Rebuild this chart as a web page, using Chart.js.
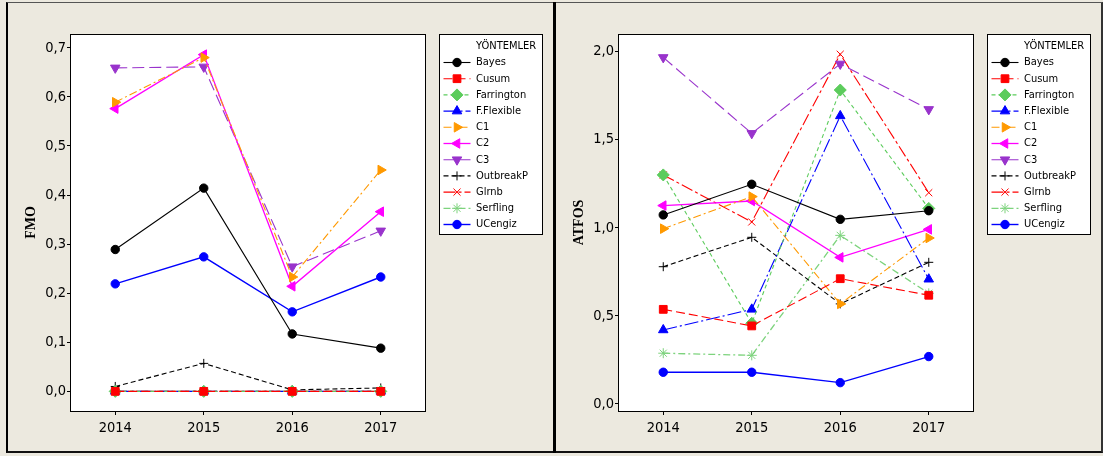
<!DOCTYPE html>
<html>
<head>
<meta charset="utf-8">
<script src="https://cdn.jsdelivr.net/npm/chart.js@4.4.1/dist/chart.umd.min.js"></script>
<style>
  html, body { margin: 0; padding: 0; background: #ece9df; }
  #stage { position: relative; width: 1103px; height: 456px; overflow: hidden; }
  canvas { position: absolute; top: 0; }
  #cvFmo { left: 0; }
  #cvAtfos { left: 553px; }
  .frame { position: absolute; left: 6px; top: 2px; width: 1093px; height: 448px;
           border-top: 1px solid #555; border-left: 2px solid #000;
           border-bottom: 2px solid #111; border-right: 2px solid #333; }
  .split { position: absolute; left: 553px; top: 2px; width: 3px; height: 451px; background: #000; }
</style>
</head>
<body>
<div id="stage">
  <canvas id="cvFmo" width="553" height="456"></canvas>
  <canvas id="cvAtfos" width="550" height="456"></canvas>
  <div class="frame"></div>
  <div class="split"></div>
</div>
<script>
// years on the x axis
const years = [2014, 2015, 2016, 2017];
const methods = ["Bayes", "Cusum", "Farrington", "F.Flexible", "C1", "C2", "C3", "OutbreakP", "Glrnb", "Serfling", "UCengiz"];

// FMO per method
const fmoBayes      = [0.289, 0.414, 0.117, 0.088];
const fmoCusum      = [0, 0, 0, 0];
const fmoFarrington = [0, 0, 0, 0];
const fmoFlexible   = [0, 0, 0, 0];
const fmoC1         = [0.589, 0.680, 0.233, 0.451];
const fmoC2         = [0.576, 0.686, 0.214, 0.366];
const fmoC3         = [0.659, 0.661, 0.254, 0.327];
const fmoOutbreakP  = [0.010, 0.057, 0.003, 0.007];
const fmoGlrnb      = [0, 0, 0, 0];
const fmoSerfling   = [0, 0, 0, 0];
const fmoUCengiz    = [0.219, 0.274, 0.162, 0.233];

// ATFOS per method
const atfosBayes      = [1.073, 1.247, 1.048, 1.097];
const atfosCusum      = [0.537, 0.443, 0.711, 0.617];
const atfosFarrington = [1.300, 0.458, 1.782, 1.110];
const atfosFlexible   = [0.420, 0.537, 1.635, 0.708];
const atfosC1         = [0.995, 1.177, 0.568, 0.942];
const atfosC2         = [1.126, 1.152, 0.832, 0.991];
const atfosC3         = [1.967, 1.536, 1.930, 1.672];
const atfosOutbreakP  = [0.779, 0.946, 0.568, 0.804];
const atfosGlrnb      = [1.300, 1.033, 1.985, 1.199];
const atfosSerfling   = [0.288, 0.276, 0.957, 0.628];
const atfosUCengiz    = [0.180, 0.180, 0.121, 0.269];

const fmoTicks = [0, 0.1, 0.2, 0.3, 0.4, 0.5, 0.6, 0.7];
const atfosTicks = [0, 0.5, 1.0, 1.5, 2.0];

const NARROW = "'Liberation Sans Narrow', 'DejaVu Sans Condensed', 'Liberation Sans', sans-serif";

// line / marker look for each method, same order as `methods`
const styles = [
  { color: "#000000", dash: [],            point: "circle",   radius: 4.2, rot: 0,   width: 1.1 },
  { color: "#ff0000", dash: [9, 4],        point: "rect",     radius: 5.5, rot: 0,   width: 1.1 },
  { color: "#5ccc5c", dash: [4, 3],        point: "rectRot",  radius: 6,   rot: 0,   width: 1.1 },
  { color: "#0000ff", dash: [14, 3, 2, 3], point: "triangle", radius: 5.5, rot: 0,   width: 1.1 },
  { color: "#ff9900", dash: [8, 3, 2, 3],  point: "triangle", radius: 5.5, rot: 90,  width: 1.1 },
  { color: "#ff00ff", dash: [],            point: "triangle", radius: 5.5, rot: 270, width: 1.3 },
  { color: "#9933cc", dash: [12, 5],       point: "triangle", radius: 5.5, rot: 180, width: 1.1 },
  { color: "#000000", dash: [5, 3],        point: "cross",    radius: 4.5, rot: 0,   width: 1.1 },
  { color: "#ff0000", dash: [12, 3, 3, 3], point: "crossRot", radius: 5,   rot: 0,   width: 1.1 },
  { color: "#7dd37d", dash: [7, 3, 2, 3],  point: "star",     radius: 5,   rot: 0,   width: 1.3 },
  { color: "#0000ff", dash: [],            point: "circle",   radius: 4.2, rot: 0,   width: 1.4 }
];

function buildDatasets(seriesList) {
  return seriesList.map((vals, i) => {
    const s = styles[i];
    return {
      label: methods[i],
      data: years.map((y, k) => ({ x: y, y: vals[k] })),
      borderColor: s.color,
      backgroundColor: s.color,
      borderWidth: s.width,
      borderDash: s.dash,
      pointStyle: s.point,
      pointRadius: s.radius,
      pointRotation: s.rot,
      pointBorderWidth: 1,
      pointBackgroundColor: s.color,
      pointBorderColor: s.color,
      tension: 0
    };
  });
}

// white plot box with black frame
const plotFrame = {
  id: "plotFrame",
  beforeDraw(chart) {
    const a = chart.chartArea, ctx = chart.ctx;
    ctx.save();
    ctx.fillStyle = "#ffffff";
    ctx.fillRect(a.left, a.top, a.right - a.left, a.bottom - a.top);
    ctx.restore();
  },
  afterDraw(chart) {
    const a = chart.chartArea, ctx = chart.ctx;
    ctx.save();
    ctx.strokeStyle = "#000";
    ctx.lineWidth = 1;
    ctx.strokeRect(Math.round(a.left) - 0.5, Math.round(a.top) + 0.5,
                   Math.round(a.right - a.left) + 1, Math.round(a.bottom - a.top));
    ctx.restore();
  }
};

// rotated y axis title + method legend to the right of the plot
const sideParts = {
  id: "sideParts",
  afterDraw(chart, args, opts) {
    const ctx = chart.ctx, a = chart.chartArea;
    ctx.save();
    ctx.translate(opts.titleX, (a.top + a.bottom) / 2);
    ctx.rotate(-Math.PI / 2);
    ctx.font = "bold 14px 'Liberation Serif', 'DejaVu Serif', serif";
    ctx.fillStyle = "#000";
    ctx.textAlign = "center";
    ctx.textBaseline = "middle";
    ctx.fillText(opts.title, 0, 0);
    ctx.restore();

    const bx = opts.boxLeft, by = 34, bw = 103, bh = 200;
    ctx.save();
    ctx.fillStyle = "#fff";
    ctx.fillRect(bx, by, bw, bh);
    ctx.strokeStyle = "#000";
    ctx.lineWidth = 1;
    ctx.strokeRect(bx + 0.5, by + 0.5, bw, bh);

    ctx.fillStyle = "#000";
    ctx.font = "11px " + NARROW;
    ctx.textBaseline = "middle";
    ctx.textAlign = "left";
    ctx.fillText("YÖNTEMLER", bx + 37, by + 12);

    chart.data.datasets.forEach((ds, i) => {
      const y = by + 28.5 + i * 16.2;
      const x0 = bx + 4.5, x1 = bx + 31.5, xm = bx + 18;
      ctx.save();
      ctx.strokeStyle = ds.borderColor;
      ctx.lineWidth = ds.borderWidth;
      ctx.setLineDash(ds.borderDash);
      ctx.beginPath();
      ctx.moveTo(x0, y);
      ctx.lineTo(x1, y);
      ctx.stroke();
      ctx.setLineDash([]);
      ctx.fillStyle = ds.pointBackgroundColor;
      ctx.strokeStyle = ds.pointBorderColor;
      ctx.lineWidth = 1;
      Chart.helpers.drawPoint(ctx, {
        pointStyle: ds.pointStyle, radius: ds.pointRadius,
        rotation: ds.pointRotation, borderWidth: 1
      }, xm, y);
      ctx.restore();
      ctx.fillStyle = "#000";
      ctx.fillText(ds.label, bx + 37, y);
    });
    ctx.restore();
  }
};

function makePanel(canvasId, seriesList, yMin, yMax, yTicks, plotLeft, plotRight, title, titleX) {
  const canvas = document.getElementById(canvasId);
  return new Chart(canvas.getContext("2d"), {
    type: "line",
    data: { datasets: buildDatasets(seriesList) },
    plugins: [plotFrame, sideParts],
    options: {
      responsive: false,
      animation: false,
      events: [],
      layout: { padding: { left: 0, top: 34, right: canvas.width - plotRight, bottom: 0 } },
      plugins: {
        legend: { display: false },
        tooltip: { enabled: false },
        sideParts: { title: title, titleX: titleX, boxLeft: plotRight + 14 }
      },
      scales: {
        x: {
          type: "linear",
          min: 2013.5,
          max: 2017.5,
          afterBuildTicks: s => { s.ticks = years.map(v => ({ value: v })); },
          afterFit: s => { s.height = 45; },
          grid: { display: true, drawOnChartArea: false, drawTicks: true, tickLength: 4, color: "#000" },
          border: { display: false },
          ticks: {
            color: "#000",
            padding: 5,
            maxRotation: 0,
            font: { family: NARROW, size: 14.5 },
            callback: v => String(v)
          }
        },
        y: {
          type: "linear",
          min: yMin,
          max: yMax,
          afterBuildTicks: s => { s.ticks = yTicks.map(v => ({ value: v })); },
          afterFit: s => { s.width = plotLeft; },
          grid: { display: true, drawOnChartArea: false, drawTicks: true, tickLength: 4, color: "#000" },
          border: { display: false },
          ticks: {
            color: "#000",
            padding: 1,
            font: { family: NARROW, size: 14.5 },
            callback: v => v.toFixed(1).replace(".", ",")
          }
        }
      }
    }
  });
}

makePanel("cvFmo",
  [fmoBayes, fmoCusum, fmoFarrington, fmoFlexible, fmoC1, fmoC2, fmoC3, fmoOutbreakP, fmoGlrnb, fmoSerfling, fmoUCengiz],
  -0.04, 0.728, fmoTicks, 71, 425, "FMO", 31);

makePanel("cvAtfos",
  [atfosBayes, atfosCusum, atfosFarrington, atfosFlexible, atfosC1, atfosC2, atfosC3, atfosOutbreakP, atfosGlrnb, atfosSerfling, atfosUCengiz],
  -0.04, 2.1, atfosTicks, 66, 420, "ATFOS", 26);
</script>
</body>
</html>
